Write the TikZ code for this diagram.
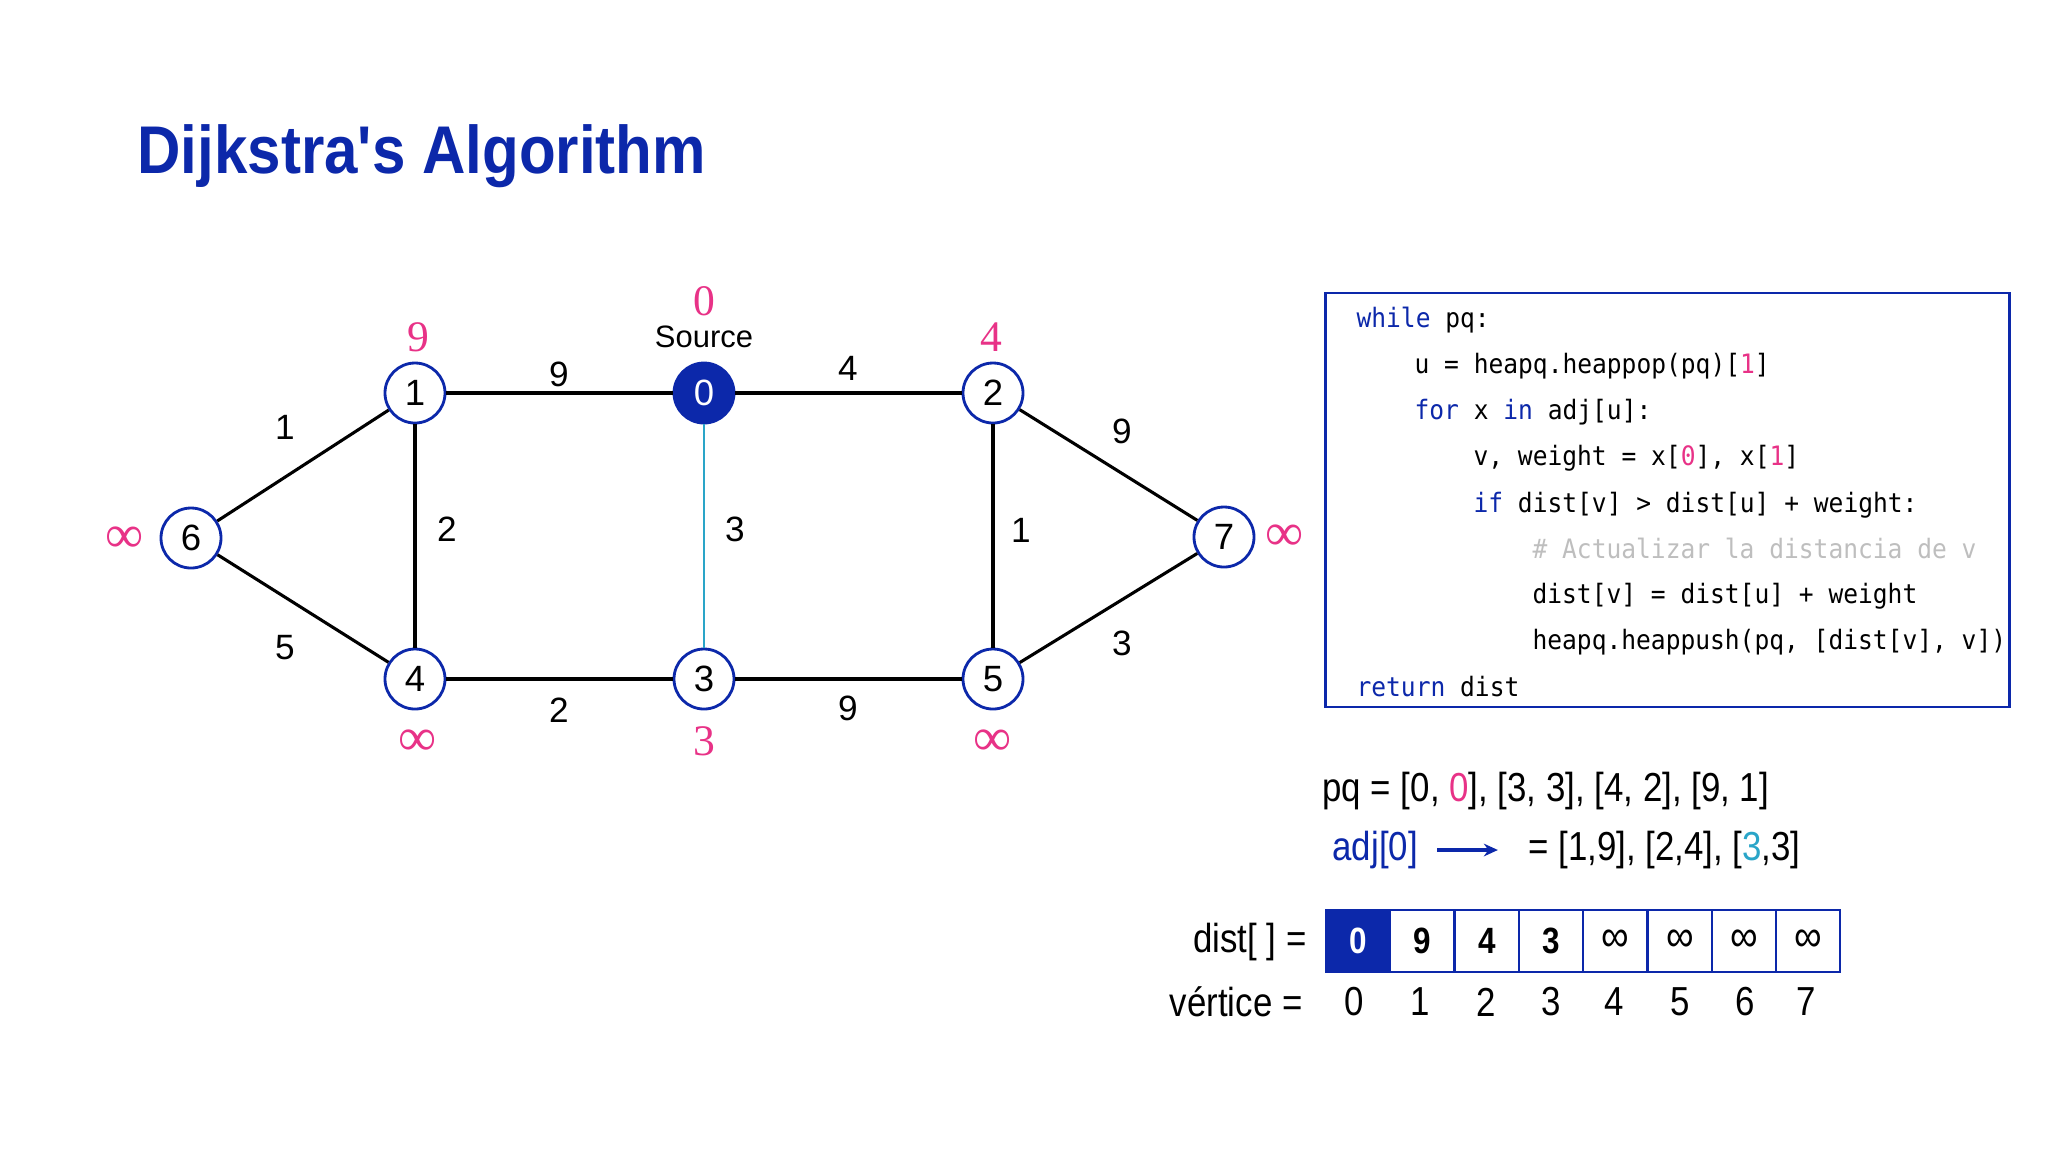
\documentclass[tikz,border=0pt]{standalone}
\usepackage{fontspec}
\setmainfont{Liberation Sans}
\newfontfamily\condfont[FakeStretch=0.86]{Liberation Sans}
\newfontfamily\titlefont[FakeStretch=0.89]{Liberation Sans}
\newfontfamily\seriffont{Liberation Serif}
\newfontfamily\codefont[FakeStretch=0.92]{DejaVu Sans Mono}
\usetikzlibrary{positioning, arrows.meta}

\definecolor{mainblue}{RGB}{12,40,170}
\definecolor{distpink}{RGB}{232,50,135}
\definecolor{edgecyan}{RGB}{42,165,200}
\definecolor{commentgray}{RGB}{190,190,190}

\newcommand{\codekw}[1]{\textcolor{mainblue}{#1}}
\newcommand{\codenum}[1]{\textcolor{distpink}{#1}}

\begin{document}
\begin{tikzpicture}[x=0.0125cm, y=-0.0125cm,
  vertex/.style={circle, draw=mainblue, line width=1pt, fill=white, minimum size=0.75cm, inner sep=0pt, font=\fontsize{13}{15}\selectfont},
  edge/.style={line width=1.1pt},
  weight/.style={inner sep=0pt, font=\fontsize{12.5}{14}\selectfont},
  distval/.style={inner sep=0pt, text=distpink, font=\seriffont\fontsize{15.5}{18}\selectfont},
  distinf/.style={distval, font=\seriffont\fontsize{19}{20}\selectfont},
  codeline/.style={anchor=base west, inner sep=0pt, font=\codefont\fontsize{9.5}{11}\selectfont},
  cell/.style={draw=mainblue, line width=0.8pt, minimum width=0.804cm, minimum height=0.775cm, inner sep=0pt, font=\condfont\fontsize{13}{15}\selectfont\bfseries},
  infcell/.style={cell, font=\condfont\fontsize{16}{16}\selectfont},
  plain/.style={inner sep=0pt, font=\condfont\fontsize{14.4}{17}\selectfont}
]
\useasboundingbox (0,0) rectangle (2048,1152);

% Title
\node[anchor=west, inner sep=0pt, text=mainblue, font=\titlefont\fontsize{24}{28}\selectfont\bfseries] (title) at (137,156) {Dijkstra's Algorithm};

% Vertices
\node[vertex, fill=mainblue, text=white] (n0) at (704,393) {0};
\node[vertex] (n1) at (415,393) {1};
\node[vertex] (n2) at (993,393) {2};
\node[vertex] (n3) at (704,679) {3};
\node[vertex] (n4) at (415,679) {4};
\node[vertex] (n5) at (993,679) {5};
\node[vertex] (n6) at (191,538) {6};
\node[vertex] (n7) at (1224,537) {7};

% Edges
\draw[edge] (n1) -- (n0);
\draw[edge] (n0) -- (n2);
\draw[edge] (n6) -- (n1);
\draw[edge] (n6) -- (n4);
\draw[edge] (n1) -- (n4);
\draw[edge] (n4) -- (n3);
\draw[edge] (n3) -- (n5);
\draw[edge] (n2) -- (n5);
\draw[edge] (n2) -- (n7);
\draw[edge] (n5) -- (n7);
\draw[line width=0.8pt, edgecyan] (n0) -- (n3);

% Weights
\node[weight] (w10) at (559,374) {9};
\node[weight] (w02) at (848,368) {4};
\node[weight] (w61) at (285,427) {1};
\node[weight] (w14) at (447,529) {2};
\node[weight] (w03) at (735,529) {3};
\node[weight] (w25) at (1021,530) {1};
\node[weight] (w27) at (1122,431) {9};
\node[weight] (w64) at (285,648) {5};
\node[weight] (w43) at (559,710) {2};
\node[weight] (w35) at (848,708) {9};
\node[weight] (w57) at (1122,643) {3};

% Distances
\node[distval] (d0) at (704,301) {0};
\node[inner sep=0pt, font=\fontsize{11}{12}\selectfont] (source) at (704,337) {Source};
\node[distval] (d1) at (418,337) {9};
\node[distval] (d2) at (991,337) {4};
\node[distval] (d3) at (704,741) {3};
\node[distinf] (d4) at (418,743) {∞};
\node[distinf] (d5) at (993,743) {∞};
\node[distinf] (d6) at (125,540) {∞};
\node[distinf] (d7) at (1285,538) {∞};

% Code
\node[draw=mainblue, line width=1pt, minimum width=8.54cm, minimum height=5.175cm, inner sep=0pt] (code) at (1667.5,500) {};
\node[codeline] (code1) at (1356,327) {\codekw{while} pq:};
\node[codeline] (code2) at (1414,373) {u = heapq.heappop(pq)[\codenum{1}]};
\node[codeline] (code3) at (1414,419) {\codekw{for} x \codekw{in} adj[u]:};
\node[codeline] (code4) at (1473,465) {v, weight = x[\codenum{0}], x[\codenum{1}]};
\node[codeline] (code5) at (1473,512) {\codekw{if} dist[v] > dist[u] + weight:};
\node[codeline, text=commentgray] (code6) at (1532,558) {\# Actualizar la distancia de v};
\node[codeline] (code7) at (1532,603) {dist[v] = dist[u] + weight};
\node[codeline] (code8) at (1532,649) {heapq.heappush(pq, [dist[v], v])};
\node[codeline] (code9) at (1356,696) {\codekw{return} dist};

% Queue and adjacency
\node[plain, anchor=west] (pq) at (1322,791) {pq = [0, \textcolor{distpink}{0}], [3, 3], [4, 2], [9, 1]};
\node[plain, anchor=west, text=mainblue] (adj) at (1332,850) {adj[0]};
\node[plain, anchor=west] (adjlist) at (1528,850) {= [1,9], [2,4], [\textcolor{edgecyan}{3},3]};
\draw[-{Stealth[length=5pt, width=4.5pt]}, mainblue, line width=1.1pt, shorten <=6.8pt, shorten >=10.7pt] (adj.east) -- (adj.east -| adjlist.west);

% Distance array
\node[plain, anchor=east] (distlabel) at (1307,942) {dist[ ] =};
\node[cell, fill=mainblue, text=white] (c0) at (1358,941) {0};
\node[cell] (c1) at (1422,941) {9};
\node[cell] (c2) at (1487,941) {4};
\node[cell] (c3) at (1551,941) {3};
\node[infcell] (c4) at (1615,941) {∞};
\node[infcell] (c5) at (1680,941) {∞};
\node[infcell] (c6) at (1744,941) {∞};
\node[infcell] (c7) at (1808,941) {∞};

\node[plain, anchor=east] (vlabel) at (1303,1002) {vértice =};
\node[plain] (v0) at (1354,1002) {0};
\node[plain] (v1) at (1420,1002) {1};
\node[plain] (v2) at (1486,1002) {2};
\node[plain] (v3) at (1551,1002) {3};
\node[plain] (v4) at (1614,1002) {4};
\node[plain] (v5) at (1680,1002) {5};
\node[plain] (v6) at (1745,1002) {6};
\node[plain] (v7) at (1806,1002) {7};

\end{tikzpicture}
\end{document}
